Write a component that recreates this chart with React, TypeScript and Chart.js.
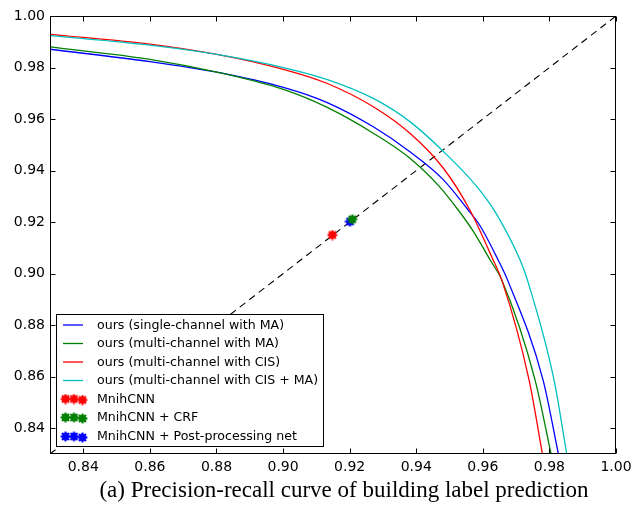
import React, { useEffect, useRef } from "react";
import { Chart, registerables } from "chart.js";

Chart.register(...registerables);

// ---- axis ticks ----
const xTicks = [0.84, 0.86, 0.88, 0.9, 0.92, 0.94, 0.96, 0.98, 1.0];
const yTicks = [0.84, 0.86, 0.88, 0.9, 0.92, 0.94, 0.96, 0.98, 1.0];
const axisMin = 0.83;
const axisMax = 1.0;

// ---- curves: recall (x) / precision (y) ----
const singleMaRecall = [0.83, 0.86, 0.8801, 0.9001, 0.9131, 0.9271, 0.9381, 0.9481, 0.9556, 0.9592, 0.9646, 0.9676, 0.9781, 0.9827];
const singleMaPrecision = [0.9871, 0.9823, 0.9782, 0.9723, 0.9665, 0.957, 0.9473, 0.9365, 0.9247, 0.9185, 0.9053, 0.897, 0.8587, 0.83];

const multiMaRecall = [0.83, 0.86, 0.8801, 0.9001, 0.9131, 0.9271, 0.9381, 0.9471, 0.9526, 0.9571, 0.9622, 0.9657, 0.9757, 0.9805];
const multiMaPrecision = [0.988, 0.9832, 0.9782, 0.9715, 0.9646, 0.9545, 0.9448, 0.9336, 0.9247, 0.9165, 0.9053, 0.8975, 0.8587, 0.83];

const multiCisRecall = [0.83, 0.86, 0.8801, 0.9001, 0.9131, 0.9271, 0.9381, 0.9481, 0.9561, 0.9631, 0.9657, 0.9739, 0.9779];
const multiCisPrecision = [0.9929, 0.9891, 0.9851, 0.9793, 0.9739, 0.9648, 0.9545, 0.941, 0.9247, 0.9053, 0.8975, 0.8587, 0.83];

const multiCisMaRecall = [0.83, 0.86, 0.8801, 0.9001, 0.9131, 0.9271, 0.9381, 0.9481, 0.9582, 0.9637, 0.9712, 0.9732, 0.9814, 0.9852];
const multiCisMaPrecision = [0.9924, 0.9887, 0.9851, 0.98, 0.9754, 0.968, 0.959, 0.9475, 0.9338, 0.924, 0.9053, 0.8983, 0.8587, 0.83];

const diagonalX = [0.83, 1.0];
const diagonalY = [0.83, 1.0];

// ---- single-point baselines ----
const markerLabels = ["MnihCNN", "MnihCNN + CRF", "MnihCNN + Post-processing net"];
const markerRecall = [0.9148, 0.9208, 0.9201];
const markerPrecision = [0.915, 0.9211, 0.9202];
const markerColors = ["#ff0000", "#008000", "#0000ff"];

const lineLabels = [
  "ours (single-channel with MA)",
  "ours (multi-channel with MA)",
  "ours (multi-channel with CIS)",
  "ours (multi-channel with CIS + MA)",
];
const lineColors = ["#0000ff", "#008000", "#ff0000", "#00bfbf"];

const caption = "(a) Precision-recall curve of building label prediction";

function zip(xs: number[], ys: number[]) {
  return xs.map((x, i) => ({ x, y: ys[i] }));
}

function makeMarker(color: string): HTMLCanvasElement {
  const c = document.createElement("canvas");
  c.width = 11;
  c.height = 11;
  const g = c.getContext("2d")!;
  const cx = 5.5, cy = 5.5;
  g.fillStyle = color;
  g.strokeStyle = color;
  g.beginPath();
  g.arc(cx, cy, 3.4, 0, Math.PI * 2);
  g.fill();
  g.lineWidth = 2.2;
  g.lineCap = "butt";
  for (let k = 0; k < 4; k++) {
    const a = (k * Math.PI) / 4;
    g.beginPath();
    g.moveTo(cx - Math.cos(a) * 4.9, cy - Math.sin(a) * 4.9);
    g.lineTo(cx + Math.cos(a) * 4.9, cy + Math.sin(a) * 4.9);
    g.stroke();
  }
  return c;
}

export default function App() {
  const ref = useRef<HTMLCanvasElement>(null);

  useEffect(() => {
    if (!ref.current) return;
    const markers = markerColors.map(makeMarker);
    const lineSeries = [
      zip(singleMaRecall, singleMaPrecision),
      zip(multiMaRecall, multiMaPrecision),
      zip(multiCisRecall, multiCisPrecision),
      zip(multiCisMaRecall, multiCisMaPrecision),
    ];

    const datasets: any[] = [];
    lineSeries.forEach((d, i) => {
      datasets.push({
        label: lineLabels[i],
        data: d,
        borderColor: lineColors[i],
        backgroundColor: lineColors[i],
        borderWidth: 1.3,
        pointRadius: 0,
        cubicInterpolationMode: "monotone",
        fill: false,
        order: 4 - i,
      });
    });
    datasets.push({
      label: "diagonal",
      data: zip(diagonalX, diagonalY),
      borderColor: "#000",
      borderWidth: 1.1,
      borderDash: [7, 5],
      pointRadius: 0,
      fill: false,
      order: 10,
    });
    markerLabels.forEach((lab, i) => {
      datasets.push({
        label: lab,
        data: [{ x: markerRecall[i], y: markerPrecision[i] }],
        showLine: false,
        pointStyle: markers[i],
        pointRadius: 5,
        borderColor: markerColors[i],
        backgroundColor: markerColors[i],
        order: 0,
      });
    });

    const overlay = {
      id: "overlay",
      afterDraw(chart: any) {
        const { ctx, chartArea: a, scales } = chart;
        const xs = scales.x, ys = scales.y;
        ctx.save();
        // frame
        ctx.strokeStyle = "#000";
        ctx.lineWidth = 1;
        const L = Math.round(a.left) + 0.5;
        const R = Math.round(a.right) - 0.5;
        const T = Math.round(a.top) + 0.5;
        const B = Math.round(a.bottom) - 0.5;
        ctx.strokeRect(L, T, R - L, B - T);
        // inward ticks
        ctx.beginPath();
        xTicks.forEach((v) => {
          const px = Math.round(xs.getPixelForValue(v)) + 0.5;
          ctx.moveTo(px, B);
          ctx.lineTo(px, B - 5);
          ctx.moveTo(px, T);
          ctx.lineTo(px, T + 5);
        });
        yTicks.forEach((v) => {
          const py = Math.round(ys.getPixelForValue(v)) + 0.5;
          ctx.moveTo(L, py);
          ctx.lineTo(L + 5, py);
          ctx.moveTo(R, py);
          ctx.lineTo(R - 5, py);
        });
        ctx.stroke();

        // legend
        const lx = 56.5, ly = 314.5, lw = 267, lh = 132;
        ctx.fillStyle = "#fff";
        ctx.fillRect(lx, ly, lw, lh);
        ctx.strokeStyle = "#000";
        ctx.lineWidth = 1;
        ctx.strokeRect(lx, ly, lw, lh);
        const rows = [325, 343.5, 362, 380.5, 399, 417.5, 436.5];
        ctx.font = '12.6px "DejaVu Sans"';
        ctx.textBaseline = "middle";
        ctx.textAlign = "left";
        lineLabels.forEach((lab, i) => {
          const y = rows[i];
          ctx.strokeStyle = lineColors[i];
          ctx.lineWidth = 1.3;
          ctx.beginPath();
          ctx.moveTo(63, y);
          ctx.lineTo(83, y);
          ctx.stroke();
          ctx.fillStyle = "#000";
          ctx.fillText(lab, 97, y + 0.5);
        });
        markerLabels.forEach((lab, i) => {
          const y = rows[4 + i];
          const img = markers[i];
          [65.5, 74, 82.5].forEach((mx, k) => {
            ctx.drawImage(img, mx - 5.5, y - 5.5 + (k === 2 ? 1 : 0));
          });
          ctx.fillStyle = "#000";
          ctx.fillText(lab, 97, y + 0.5);
        });

        // caption
        ctx.font = '23px "Liberation Serif"';
        ctx.textAlign = "center";
        ctx.textBaseline = "alphabetic";
        ctx.fillStyle = "#000";
        ctx.fillText(caption, 344, 497);
        ctx.restore();
      },
    };

    const chart = new Chart(ref.current, {
      type: "line",
      data: { datasets },
      options: {
        animation: false,
        responsive: false,
        maintainAspectRatio: false,
        events: [],
        layout: { padding: { left: 0, right: 28, top: 16, bottom: 30 } },
        plugins: { legend: { display: false }, tooltip: { enabled: false }, title: { display: false } },
        scales: {
          x: {
            type: "linear",
            min: axisMin,
            max: axisMax,
            grid: { display: false, drawTicks: false },
            border: { display: false },
            afterBuildTicks: (s: any) => {
              s.ticks = xTicks.map((v) => ({ value: v }));
            },
            afterFit: (s: any) => {
              s.height = 25;
            },
            ticks: {
              autoSkip: false,
              maxRotation: 0,
              padding: 5,
              color: "#000",
              font: { family: "DejaVu Sans", size: 14 },
              callback: (v: any) => Number(v).toFixed(2),
            },
          },
          y: {
            type: "linear",
            min: axisMin,
            max: axisMax,
            grid: { display: false, drawTicks: false },
            border: { display: false },
            afterBuildTicks: (s: any) => {
              s.ticks = yTicks.map((v) => ({ value: v }));
            },
            afterFit: (s: any) => {
              s.width = 50;
            },
            ticks: {
              autoSkip: false,
              padding: 5,
              color: "#000",
              font: { family: "DejaVu Sans", size: 14 },
              callback: (v: any) => Number(v).toFixed(2),
            },
          },
        },
      },
      plugins: [overlay],
    });
    return () => chart.destroy();
  }, []);

  return (
    <div style={{ position: "fixed", left: 0, top: 0, width: 644, height: 509, background: "#fff" }}>
      <canvas ref={ref} width={644} height={509} style={{ width: 644, height: 509, display: "block" }} />
    </div>
  );
}
